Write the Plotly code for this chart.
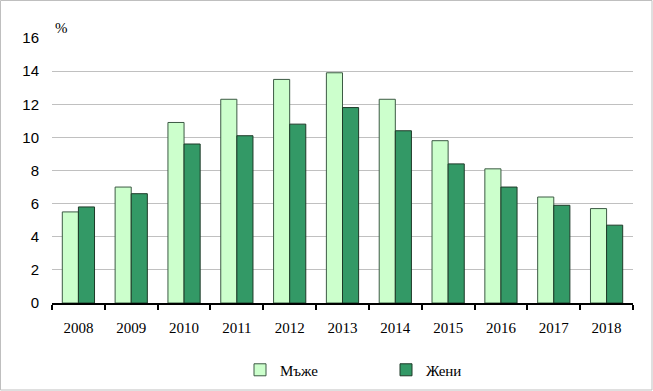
import plotly.graph_objects as go

years = ["2008", "2009", "2010", "2011", "2012", "2013", "2014", "2015", "2016", "2017", "2018"]
men = [5.5, 7.0, 10.9, 12.3, 13.5, 13.9, 12.3, 9.8, 8.1, 6.4, 5.7]
women = [5.8, 6.6, 9.6, 10.1, 10.8, 11.8, 10.4, 8.4, 7.0, 5.9, 4.7]

W, H = 653, 391
ml, mr, mt, mb = 52, 20, 38, 88
pw, ph = W - ml - mr, H - mt - mb

fig = go.Figure()
fig.add_trace(go.Bar(x=years, y=men, name="Мъже",
                     marker=dict(color="#CCFFCC", line=dict(color="#3C5A44", width=1))))
fig.add_trace(go.Bar(x=years, y=women, name="Жени",
                     marker=dict(color="#339966", line=dict(color="#1E3A28", width=1))))

fig.update_layout(
    width=W, height=H,
    margin=dict(l=ml, r=mr, t=mt, b=mb, autoexpand=False),
    paper_bgcolor="white", plot_bgcolor="white",
    barmode="group", bargap=0.39, bargroupgap=0,
    showlegend=True,
    legend=dict(orientation="h", x=(240 - ml) / pw, xanchor="left", y=-0.253, yanchor="middle",
                font=dict(family="Liberation Serif", size=15, color="black"),
                itemwidth=30, traceorder="normal", entrywidth=101, entrywidthmode="pixels"),
    xaxis=dict(showline=True, linecolor="black", linewidth=2, ticks="outside",
               tickson="boundaries", ticklen=5, tickwidth=2, tickcolor="black",
               tickfont=dict(family="Liberation Serif", size=15, color="black"),
               ticklabelstandoff=10, showgrid=False),
    yaxis=dict(range=[0, 16], dtick=2, showgrid=True, gridcolor="#C0C0C0", gridwidth=1,
               showline=False, zeroline=False, ticks="",
               tickfont=dict(family="Liberation Sans", size=15, color="black"),
               ticklabelstandoff=12),
    annotations=[dict(text="%", xref="paper", yref="paper",
                      x=(61 - ml) / pw, y=(mt + ph - 28) / ph, xanchor="center", yanchor="middle",
                      showarrow=False, font=dict(family="Liberation Serif", size=15, color="black"))],
    shapes=[dict(type="rect", xref="paper", yref="paper",
                 x0=(0.5 - ml) / pw, x1=(W - 1 - ml) / pw,
                 y0=(mt + ph - (H - 1)) / ph, y1=(mt + ph - 0.5) / ph,
                 line=dict(color="#BFBFBF", width=1), layer="below")],
)

fig.write_html("out.html", config={"displayModeBar": False},
               post_script="document.body.style.margin='0';document.body.style.padding='0';document.body.style.overflow='hidden';")
